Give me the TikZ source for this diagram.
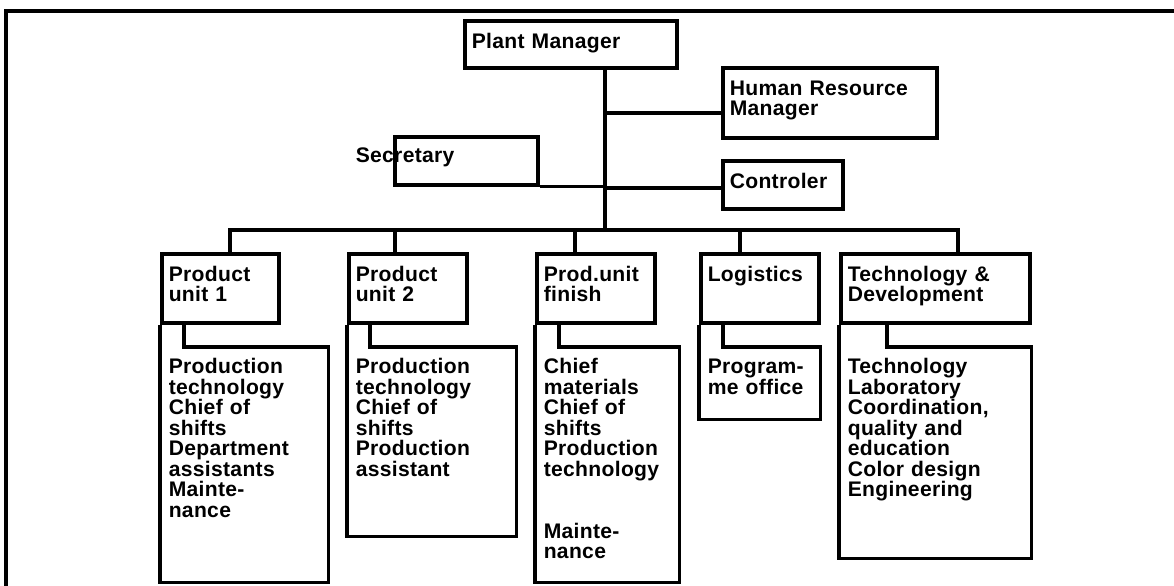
\documentclass[tikz,border=0pt]{standalone}
\usepackage{fontspec}
\setmainfont{Liberation Sans}[LetterSpace=1.5]
\usepackage{tikz}
\hyphenpenalty=10000
\exhyphenpenalty=10000

\begin{document}
\begin{tikzpicture}[x=0.025cm, y=-0.025cm, line width=0.09cm,
		font=\bfseries\fontsize{15pt}{14.6pt}\selectfont]
			\tikzstyle{Box}		= [draw, anchor=north west, align=left, inner xsep=0.175cm, inner ysep=0.1cm, text height=0.5875cm, text depth=0.4125cm]
			\tikzstyle{Unit}	= [Box, text depth=0.9375cm]
			\tikzstyle{Staff}	= [anchor=north west, align=left, inner xsep=0.175cm, inner ysep=0.1cm, text height=0.525cm]
			\tikzstyle{SecText}	= [anchor=base west, inner sep=0pt, xshift=-0.975cm, yshift=-0.6875cm]
			\tikzstyle{Link}	= [black]
			\tikzstyle{Frame}	= [line width=0.08cm]

			\useasboundingbox (0,0) rectangle (1174,585);
			\draw [Frame] (6,11) rectangle (1200,620);

			% top of the chart
			\node (pm) at (463,19) [Box, text width=4.95cm, text depth=0.3875cm] {Plant Manager};
			\node (hr) at (721,66) [Box, text width=5cm, text depth=0.9625cm] {Human Resource\\Manager};
			\node (ctrl) at (721,159) [Box, text width=2.65cm] {Controler};
			\node (sec) at (393,135) [Box, text width=3.225cm, label={[SecText]north west:Secretary}] {};

			% units
			\node (pu1) at (160,252) [Unit, text width=2.575cm] {Product\\unit 1};
			\node (pu2) at (347,252) [Unit, text width=2.6cm] {Product\\unit 2};
			\node (puf) at (535,252) [Unit, text width=2.6cm] {Prod.unit\\finish};
			\node (log) at (699,252) [Unit, text width=2.6cm] {Logistics};
			\node (td) at (839,252) [Unit, text width=4.375cm] {Technology \&\\Development};

			% staff under each unit
			\node (pu1s) at (160,347) [Staff, text width=3.775cm, text depth=5.075cm] {Production\\technology\\Chief of\\shifts\\Department\\assistants\\Mainte-\\nance};
			\node (pu2s) at (347,347) [Staff, text width=3.8cm, text depth=3.925cm] {Production\\technology\\Chief of\\shifts\\Production\\assistant};
			\node (pufs) at (535,347) [Staff, text width=3.175cm, text depth=5.075cm] {Chief\\materials\\Chief of\\shifts\\Production\\technology\\[29.2pt]Mainte-\\nance};
			\node (logs) at (699,347) [Staff, text width=2.6cm, text depth=1cm] {Program-\\me office};
			\node (tds) at (839,347) [Staff, text width=4.375cm, text depth=4.475cm] {Technology\\Laboratory\\Coordination,\\quality and\\education\\Color design\\Engineering};

			\coordinate (bus) at (605,230);
			\coordinate (jhr) at (605,113);
			\coordinate (jct) at (605,188);
			\coordinate (d1) at (230,230);
			\coordinate (d2) at (395,230);
			\coordinate (d3) at (575,230);
			\coordinate (d4) at (740,230);
			\coordinate (d5) at (958,230);
			\coordinate (s1) at (184,321);
			\coordinate (s2) at (370,321);
			\coordinate (s3) at (559,321);
			\coordinate (s4) at (723,321);
			\coordinate (s5) at (887,321);

			\draw [-] (pm.south -| bus) to (bus) [Link];
			\draw [-] (jhr) to (jhr -| hr.west) [Link];
			\draw [-] (jct) to (jct -| ctrl.west) [Link];
			\draw [-] (sec.south east) to (sec.south east -| bus) [Link];

			\draw [Link] (d1 |- pu1.north) -- (d1) -- (d5) -- (d5 |- td.north);
			\draw [-] (d2) to (d2 |- pu2.north) [Link];
			\draw [-] (d3) to (d3 |- puf.north) [Link];
			\draw [-] (d4) to (d4 |- log.north) [Link];

			\draw [Link] (pu1.south west) -- (pu1s.south west) -- (pu1s.south east) -- (pu1s.north east) -- (s1 |- pu1s.north) -- (s1);
			\draw [Link] (pu2.south west) -- (pu2s.south west) -- (pu2s.south east) -- (pu2s.north east) -- (s2 |- pu2s.north) -- (s2);
			\draw [Link] (puf.south west) -- (pufs.south west) -- (pufs.south east) -- (pufs.north east) -- (s3 |- pufs.north) -- (s3);
			\draw [Link] (log.south west) -- (logs.south west) -- (logs.south east) -- (logs.north east) -- (s4 |- logs.north) -- (s4);
			\draw [Link] (td.south west) -- (tds.south west) -- (tds.south east) -- (tds.north east) -- (s5 |- tds.north) -- (s5);
		\end{tikzpicture}
\end{document}
